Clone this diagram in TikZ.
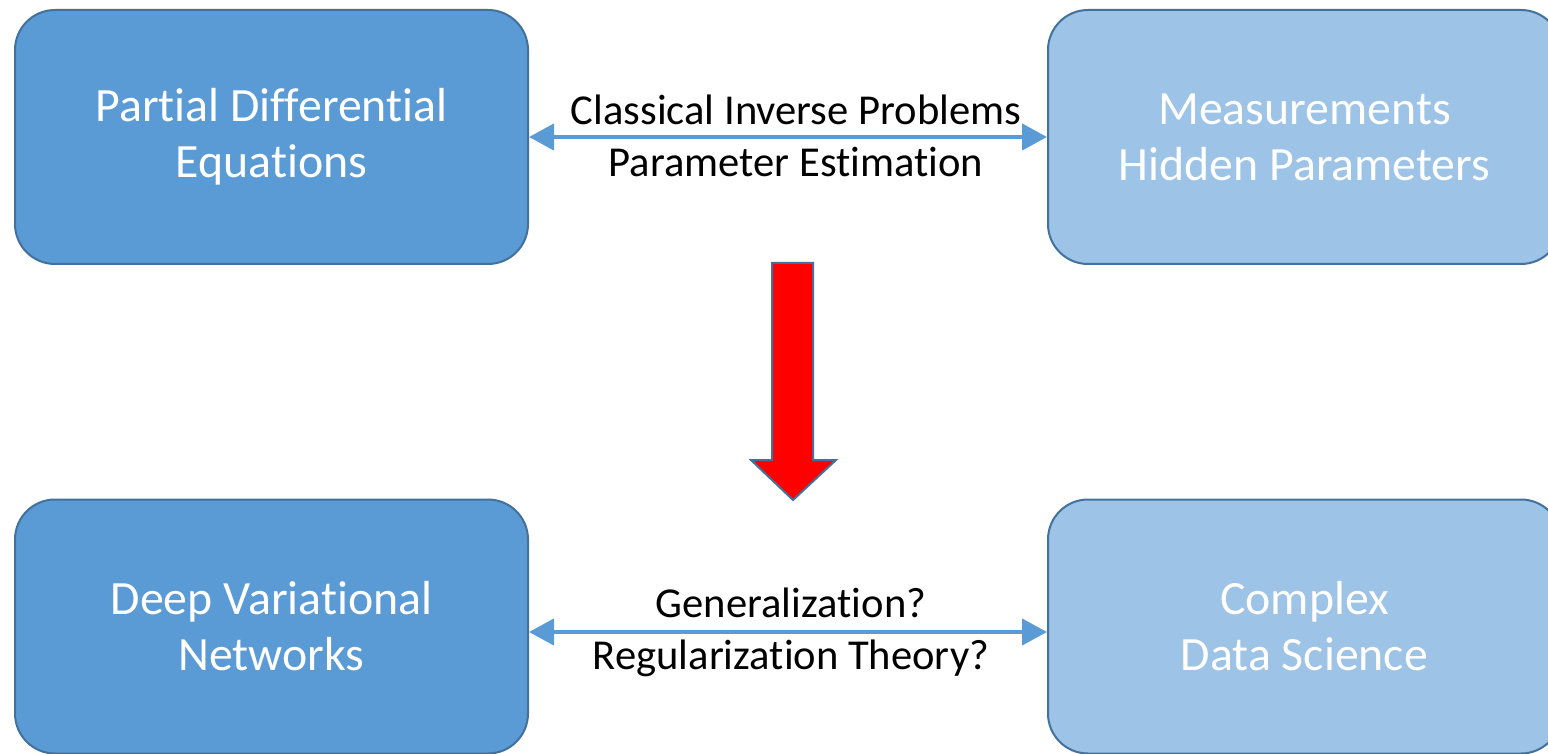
\documentclass[tikz,border=0pt]{standalone}
\usepackage{fontspec}
\setmainfont{Carlito}[Ligatures=NoCommon]
\usetikzlibrary{arrows.meta}

\definecolor{boxdark}{HTML}{5B9BD5}
\definecolor{boxlight}{HTML}{9DC3E6}
\definecolor{boxline}{HTML}{41719C}

\tikzset{
  darkbox/.style={draw=boxline, line width=1pt, fill=boxdark, rounded corners=20pt,
    minimum width=256.5pt, minimum height=127pt, align=center, text=white,
    font=\fontsize{23.9}{28}\selectfont, inner sep=0pt},
  lightbox/.style={darkbox, fill=boxlight},
  twoway/.style={draw=boxdark, line width=2.2pt,
    {Triangle[length=12.5pt,width=13pt]}-{Triangle[length=12.5pt,width=13pt]}},
  edgetext/.style={align=center, font=\fontsize{21.3}{26}\selectfont, inner sep=0pt}
}

\begin{document}
\begin{tikzpicture}[x=0.5pt,y=-0.5pt]
            \useasboundingbox (0,0) rectangle (1548,754);

            % boxes
            \node[darkbox] (pde) at (271.5,137) {Partial Differential\\Equations};
            \node[lightbox] (meas) at (1304.5,137) {Measurements\\Hidden Parameters};
            \node[darkbox] (dvn) at (271.5,626.5) {Deep Variational\\Networks};
            \node[lightbox] (cds) at (1304.5,626.5) {Complex\\Data Science};

            % arrows between the boxes
            \draw[twoway] (pde) -- (meas);
            \draw[twoway] (dvn.east |- 0,632) -- (cds.west |- 0,632);
            \node[edgetext] (top) at (796,136) {Classical Inverse Problems\\Parameter Estimation};
            \node[edgetext] (bot) at (791,632) {Generalization?\\Regularization Theory?};

            % red arrow
            \draw[draw=boxline, line width=1pt, fill=red, line join=miter]
              (772,263) -- (813,263) -- (813,460) -- (836,460) -- (793,500)
              -- (751,460) -- (772,460) -- cycle;

            \end{tikzpicture}
\end{document}
